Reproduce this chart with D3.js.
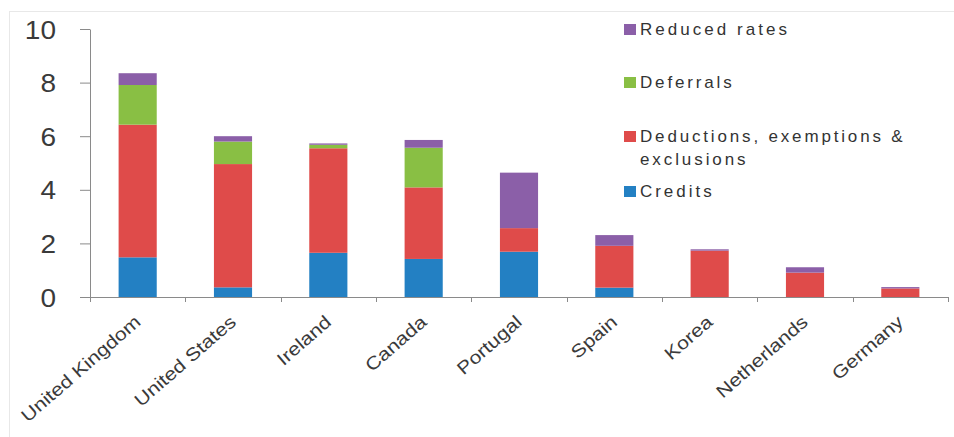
<!DOCTYPE html>
<html>
<head>
<meta charset="utf-8">
<script src="https://cdn.jsdelivr.net/npm/d3@7"></script>
<style>
  body { margin: 0; background: #fff; }
  svg { display: block; font-family: Arial, "Liberation Sans", sans-serif; }
</style>
</head>
<body>
<div id="chart"></div>
<script>
const width = 954;
const height = 437;
const margin = {top: 29, right: 6, bottom: 140, left: 90};

// Chart data
const countries = ["United Kingdom", "United States", "Ireland", "Canada", "Portugal", "Spain", "Korea", "Netherlands", "Germany"];
const credits    = [1.48, 0.36, 1.65, 1.42, 1.69, 0.35, 0, 0, 0];
const deductions = [4.95, 4.60, 3.90, 2.67, 0.88, 1.56, 1.73, 0.91, 0.32];
const deferrals  = [1.48, 0.84, 0.13, 1.48, 0, 0, 0, 0, 0];
const reduced    = [0.44, 0.20, 0.05, 0.29, 2.07, 0.40, 0.05, 0.20, 0.05];
const yTicks = [0, 2, 4, 6, 8, 10];

const seriesNames = ["Credits", "Deductions, exemptions & exclusions", "Deferrals", "Reduced rates"];
const colors = ["#2380c3", "#df4b4a", "#89bf44", "#8b5fa8"];

// Build a table the stack layout can use
const keys = ["credits", "deductions", "deferrals", "reduced"];
const rows = countries.map((c, i) => ({
    country: c,
    credits: credits[i],
    deductions: deductions[i],
    deferrals: deferrals[i],
    reduced: reduced[i]
}));

const svg = d3.select("#chart")
    .append("svg")
    .attr("width", width)
    .attr("height", height);

// light frame around the picture
svg.append("rect")
    .attr("x", 9.5).attr("y", 11.5)
    .attr("width", width).attr("height", height)
    .attr("fill", "none")
    .attr("stroke", "#e8e8e8");

const x = d3.scaleBand()
    .domain(countries)
    .range([margin.left, width - margin.right])
    .paddingInner(0.6)
    .paddingOuter(0.3);

const y = d3.scaleLinear()
    .domain([0, 10])
    .range([height - margin.bottom, margin.top]);

const stack = d3.stack().keys(keys);
const layers = stack(rows);

const color = d3.scaleOrdinal().domain(keys).range(colors);

svg.append("g")
    .selectAll("g")
    .data(layers)
    .join("g")
    .attr("fill", d => color(d.key))
    .selectAll("rect")
    .data(d => d.filter(p => p[1] - p[0] > 0))
    .join("rect")
    .attr("x", d => x(d.data.country))
    .attr("width", x.bandwidth())
    .attr("y", d => y(d[1]))
    .attr("height", d => y(d[0]) - y(d[1]));

// y axis
const yAxis = svg.append("g")
    .attr("transform", `translate(${margin.left},0)`)
    .call(d3.axisLeft(y).tickValues(yTicks).tickSize(10).tickSizeOuter(0).tickPadding(24));
yAxis.select(".domain").attr("stroke", "#8a8a8a");
yAxis.selectAll(".tick line").attr("stroke", "#8a8a8a");
yAxis.selectAll(".tick text")
    .attr("fill", "#3a3a3a")
    .style("font-size", "25px")
    .attr("dy", "0.36em")
    .each(function() {
        const len = this.getComputedTextLength();
        d3.select(this).attr("textLength", len * 1.12).attr("lengthAdjust", "spacingAndGlyphs");
    });

// x axis: line with ticks at the band boundaries
const xBase = y(0);
const step = x.step();
const x0 = margin.left;
svg.append("line")
    .attr("x1", x0).attr("x2", width - margin.right)
    .attr("y1", xBase + 0.5).attr("y2", xBase + 0.5)
    .attr("stroke", "#8a8a8a");
svg.append("g")
    .selectAll("line")
    .data(d3.range(countries.length + 1))
    .join("line")
    .attr("x1", i => Math.round(x0 + i * step) + 0.5)
    .attr("x2", i => Math.round(x0 + i * step) + 0.5)
    .attr("y1", xBase)
    .attr("y2", xBase + 5)
    .attr("stroke", "#8a8a8a");

// rotated category labels
svg.append("g")
    .selectAll("text")
    .data(countries)
    .join("text")
    .attr("transform", d => `translate(${x(d) + x.bandwidth() / 2},${xBase + 22}) rotate(-41)`)
    .attr("text-anchor", "end")
    .attr("dy", "0.35em")
    .attr("fill", "#3a3a3a")
    .style("font-size", "18px")
    .text(d => d)
    .each(function() {
        const len = this.getComputedTextLength();
        d3.select(this).attr("textLength", len * 1.18).attr("lengthAdjust", "spacingAndGlyphs");
    });

// legend (top entry is the top of the stack)
const legendItems = [
    {i: 3, lines: ["Reduced rates"], y: 29},
    {i: 2, lines: ["Deferrals"], y: 82},
    {i: 1, lines: ["Deductions, exemptions &", "exclusions"], y: 136},
    {i: 0, lines: ["Credits"], y: 191}
];
const legend = svg.append("g");
legendItems.forEach(item => {
    legend.append("rect")
        .attr("x", 624).attr("y", item.y - 5)
        .attr("width", 12).attr("height", 11)
        .attr("fill", colors[item.i]);
    item.lines.forEach((line, k) => {
        legend.append("text")
            .attr("x", 640)
            .attr("y", item.y + k * 23)
            .attr("dy", "0.36em")
            .attr("fill", "#333")
            .style("font-size", "17px")
            .text(line)
            .each(function() {
                const len = this.getComputedTextLength();
                d3.select(this).attr("textLength", len * 1.33).attr("lengthAdjust", "spacing");
            });
    });
});
</script>
</body>
</html>
